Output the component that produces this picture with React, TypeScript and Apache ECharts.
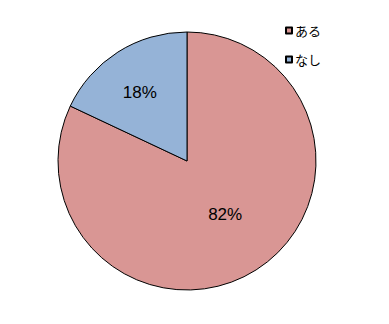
import React, { useEffect, useRef } from "react";
import * as echarts from "echarts";

const categories = ["ある", "なし"];
const values = [82, 18];
const colors = ["#D99694", "#95B3D7"];

export default function App() {
  const ref = useRef<HTMLDivElement>(null);
  useEffect(() => {
    document.body.style.margin = "0";
    const chart = echarts.init(ref.current!, null, { renderer: "svg" });
    chart.setOption({
      animation: false,
      backgroundColor: "#ffffff",
      legend: {
        orient: "vertical",
        left: 280,
        top: 18,
        icon: "rect",
        itemWidth: 6,
        itemHeight: 6,
        itemGap: 14,
        data: categories,
        textStyle: { fontFamily: "Noto Sans CJK JP", fontSize: 13, color: "#000", lineHeight: 15, padding: [0, 0, 0, -2] },
      },
      series: [
        {
          type: "pie",
          center: [187, 161],
          radius: 129,
          startAngle: 90,
          clockwise: true,
          itemStyle: { borderColor: "#000", borderWidth: 1 },
          label: {
            position: "inside",
            formatter: "{d}%",
            fontFamily: "Liberation Sans",
            fontSize: 17,
            color: "#000",
          },
          labelLine: { show: false },
          emphasis: { disabled: true },
          data: categories.map((c, i) => ({
            name: c,
            value: values[i],
            itemStyle: { color: colors[i] },
            label: i === 1 ? { offset: [-11, -12] } : { offset: [2, -3] },
          })),
        },
      ],
    });
    return () => chart.dispose();
  }, []);
  return <div ref={ref} style={{ width: 389, height: 324 }} />;
}
